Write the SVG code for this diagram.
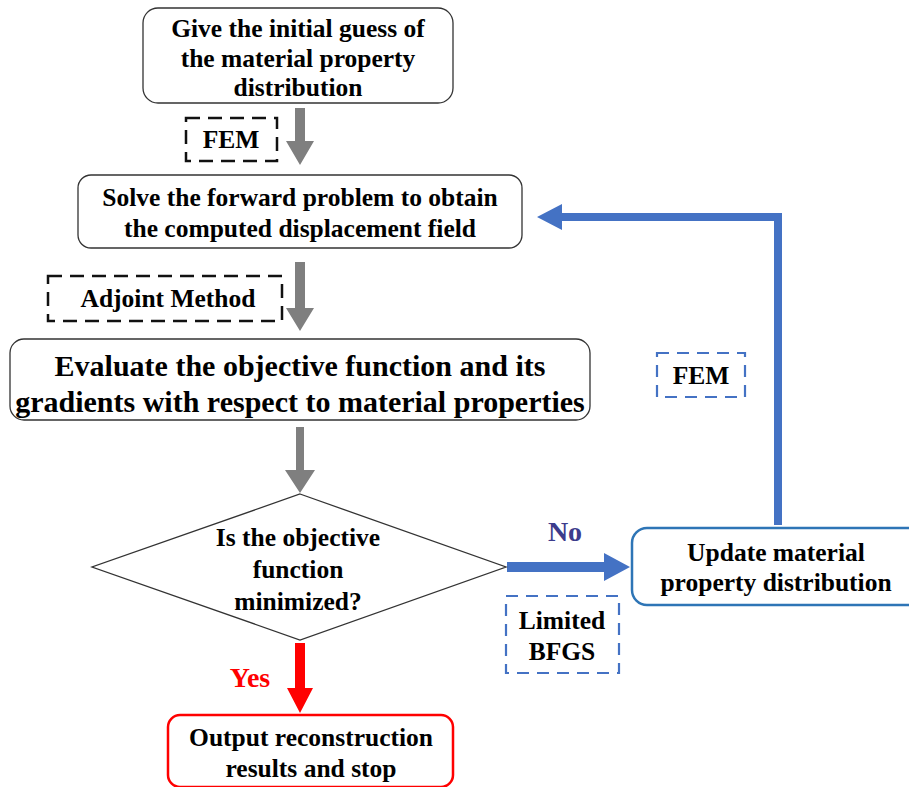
<svg xmlns="http://www.w3.org/2000/svg" width="909" height="787" viewBox="0 0 909 787">
<style>
text{font-family:"Liberation Serif","Times New Roman",serif;font-weight:bold;text-anchor:middle;fill:#000}
.box{fill:#fff;stroke:#333;stroke-width:1.3}
.dk{fill:none;stroke:#111;stroke-width:2.5;stroke-dasharray:14 8}
.db{fill:none;stroke:#4472C4;stroke-width:2.2;stroke-dasharray:12 8}
.t22{font-size:25.5px}
.t26{font-size:30px}
.gray{fill:#7f7f7f}
.blue{fill:#4472C4}
</style>
<rect width="909" height="787" fill="#fff"/>
<g id="connectors">
<polygon class="gray" points="295,108 305,108 305,141 314,141 300,165 286,141 295,141"/>
<polygon class="gray" points="295,262 305,262 305,308 314,308 300,331 286,308 295,308"/>
<polygon class="gray" points="296,427 304,427 304,470 315,470 300,493 285,470 296,470"/>
<polygon fill="#ff0000" points="295,643 305,643 305,688 313,688 300,713 287,688 295,688"/>
<polygon class="blue" points="507,562 604,562 604,553 630,567 604,581 604,572 507,572"/>
<polygon class="blue" points="782,525 774,525 774,221 562,221 562,230 537,217 562,204 562,213 782,213"/>
</g>
<g id="n1">
<rect class="box" x="143" y="8" width="310" height="95" rx="15"/>
<text class="t22" x="298" y="37">Give the initial guess of</text>
<text class="t22" x="298" y="67">the material property</text>
<text class="t22" x="298" y="96">distribution</text>
</g>
<g id="fem1">
<rect class="dk" x="186" y="118" width="91" height="43"/>
<text class="t22" x="231" y="148">FEM</text>
</g>
<g id="n2">
<rect class="box" x="78" y="175" width="444" height="73" rx="13"/>
<text class="t22" x="300" y="206">Solve the forward problem to obtain</text>
<text class="t22" x="300" y="237">the computed displacement field</text>
</g>
<g id="adjoint">
<rect class="dk" x="48" y="276" width="234" height="45"/>
<text class="t22" x="168" y="307">Adjoint Method</text>
</g>
<g id="n3">
<rect class="box" x="10" y="339" width="580" height="81" rx="14"/>
<text class="t26" x="300" y="376">Evaluate the objective function and its</text>
<text class="t26" x="300" y="412">gradients with respect to material properties</text>
</g>
<g id="n4">
<polygon points="300,494 506,567 300,640 92,567" fill="#fff" stroke="#333" stroke-width="1.3"/>
<text class="t22" x="298" y="546">Is the objective</text>
<text class="t22" x="298" y="578">function</text>
<text class="t22" x="298" y="610">minimized?</text>
</g>
<g id="no">
<text font-size="28" x="565" y="541" style="fill:#3c3c8c">No</text>
</g>
<g id="bfgs">
<rect class="db" x="506" y="596" width="113" height="77"/>
<text class="t22" x="562" y="629">Limited</text>
<text class="t22" x="562" y="660">BFGS</text>
</g>
<g id="n5">
<rect x="632" y="528" width="300" height="77" rx="15" fill="#fff" stroke="#2E75B6" stroke-width="2.5"/>
<text class="t22" x="776" y="561">Update material</text>
<text class="t22" x="776" y="591">property distribution</text>
</g>
<g id="fem2">
<rect class="db" x="657" y="353" width="88" height="44"/>
<text class="t22" x="701" y="384">FEM</text>
</g>
<g id="yes">
<text font-size="28" x="250" y="687" style="fill:#ff0000">Yes</text>
</g>
<g id="n6">
<rect x="168" y="715" width="285" height="72" rx="12" fill="#fff" stroke="#ff0000" stroke-width="2.5"/>
<text class="t22" x="311" y="746">Output reconstruction</text>
<text class="t22" x="311" y="777">results and stop</text>
</g>
</svg>
